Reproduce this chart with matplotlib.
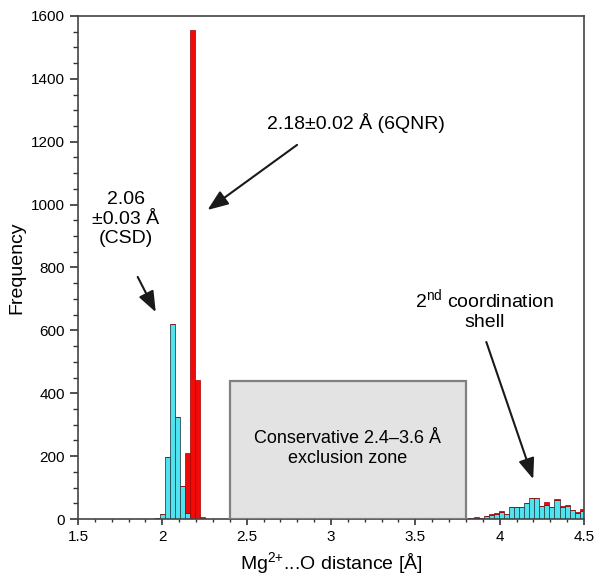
import matplotlib.pyplot as plt
from matplotlib.patches import Rectangle
from matplotlib.ticker import MultipleLocator

plt.rcParams['font.family'] = ['Liberation Sans', 'DejaVu Sans']
plt.rcParams['mathtext.fontset'] = 'custom'
plt.rcParams['mathtext.rm'] = 'Liberation Sans'
plt.rcParams['mathtext.default'] = 'regular'

# bin centres (width 0.03) and counts, CSD (cyan) + 6QNR (red), stacked
first_bins = [1.97, 2.00, 2.03, 2.06, 2.09, 2.12, 2.15, 2.18, 2.21, 2.24, 2.27, 2.30]
first_csd = [2, 16, 196, 620, 326, 106, 20, 0, 0, 0, 0, 0]
first_qnr = [0, 0, 0, 0, 0, 0, 190, 1557, 443, 5, 0, 1]

second_bins = [3.80, 3.83, 3.86, 3.89, 3.92, 3.95, 3.98, 4.01, 4.04, 4.07, 4.10, 4.13,
               4.16, 4.19, 4.22, 4.25, 4.28, 4.31, 4.34, 4.37, 4.40, 4.43, 4.46, 4.49]
second_csd = [1, 2, 4, 4, 8, 13, 16, 21, 17, 38, 38, 38,
              51, 66, 66, 40, 45, 38, 60, 38, 40, 28, 18, 27]
second_qnr = [0, 0, 2, 0, 2, 2, 3, 3, 0, 0, 0, 0,
              0, 0, 0, 0, 8, 0, 4, 4, 5, 2, 3, 5]

bins = first_bins + second_bins
csd = first_csd + second_csd
qnr = first_qnr + second_qnr
bin_width = 0.03

cyan = '#4fe2ef'
red = '#f00a0a'

fig = plt.figure(figsize=(6, 5.77), dpi=100)
ax = fig.add_axes([0.13, 0.1005, 0.8433, 0.8718])

ax.bar(bins, csd, width=bin_width, color=cyan, edgecolor='#2a4a50', linewidth=0.6, zorder=2)
ax.bar(bins, qnr, width=bin_width, bottom=csd, color=red, edgecolor='#a00000',
       linewidth=0.5, zorder=2)

# exclusion zone box
ax.add_patch(Rectangle((2.4, 0), 1.4, 440, facecolor='#e3e3e3', edgecolor='#808080',
                       linewidth=1.6, zorder=3))
ax.text(3.1, 224, 'Conservative 2.4–3.6 Å\nexclusion zone', ha='center', va='center',
        fontsize=13, zorder=4)

arrow = dict(arrowstyle='-|>,head_length=0.9,head_width=0.35', mutation_scale=14,
             color='#1a1a1a', lw=1.5, shrinkA=0, shrinkB=0)
ax.text(3.148, 1259, '2.18±0.02 Å (6QNR)', ha='center', va='center', fontsize=14)
ax.annotate('', xy=(2.268, 983), xytext=(2.799, 1190), arrowprops=arrow)

ax.text(1.783, 954, '2.06\n±0.03 Å\n(CSD)', ha='center', va='center', fontsize=14)
ax.annotate('', xy=(1.961, 658), xytext=(1.854, 770), arrowprops=arrow)

ax.text(3.909, 668, '2$^{nd}$ coordination\nshell', ha='center', va='center', fontsize=14)
ax.annotate('', xy=(4.199, 127), xytext=(3.921, 563), arrowprops=arrow)

ax.set_xlim(1.5, 4.5)
ax.set_ylim(0, 1600)
ax.set_xticks([1.5, 2, 2.5, 3, 3.5, 4, 4.5])
ax.set_xticklabels(['1.5', '2', '2.5', '3', '3.5', '4', '4.5'])
ax.set_yticks(range(0, 1601, 200))
ax.xaxis.set_minor_locator(MultipleLocator(0.1))
ax.yaxis.set_minor_locator(MultipleLocator(50))
ax.tick_params(axis='both', which='major', labelsize=11, color='#333333', width=1.2)
ax.tick_params(axis='x', which='major', length=4.5)
ax.tick_params(axis='x', which='minor', length=2.5, width=1.0, color='#333333')
ax.tick_params(axis='y', which='major', length=6)
ax.tick_params(axis='y', which='minor', length=3.5, width=1.0, color='#333333')
for s in ax.spines.values():
    s.set_color('#444444')
    s.set_linewidth(1.2)

ax.set_xlabel('Mg$^{2{+}}$...O distance [Å]', fontsize=14)
ax.set_ylabel('Frequency', fontsize=14)

fig.savefig('out.png', dpi=100)
